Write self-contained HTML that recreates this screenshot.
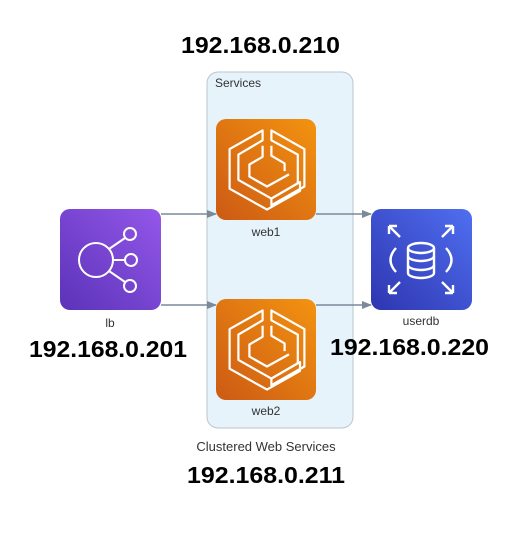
<!DOCTYPE html>
<html><head><meta charset="utf-8"><style>
html,body{margin:0;padding:0;background:#fff;}
svg{display:block;}
.ip{font-family:"Liberation Sans",sans-serif;font-weight:bold;font-size:23px;fill:#000;}
.lbl{font-family:"Liberation Sans",sans-serif;font-size:12px;fill:#333;}
</style></head><body>
<svg width="506" height="540" viewBox="0 0 506 540" xmlns="http://www.w3.org/2000/svg">
<defs>
<linearGradient id="org" x1="0" y1="1" x2="1" y2="0"><stop offset="0" stop-color="#cc5a14"/><stop offset="1" stop-color="#f39310"/></linearGradient>
<linearGradient id="pur" x1="0" y1="1" x2="1" y2="0"><stop offset="0" stop-color="#5b33b8"/><stop offset="1" stop-color="#9457ea"/></linearGradient>
<linearGradient id="blu" x1="0" y1="1" x2="1" y2="0"><stop offset="0" stop-color="#2e35b0"/><stop offset="1" stop-color="#4f6ff0"/></linearGradient>
<marker id="ar" markerWidth="10" markerHeight="8" refX="9" refY="4" orient="auto" markerUnits="userSpaceOnUse"><path d="M0,0 L10,4 L0,8 z" fill="#7a8a99"/></marker>
<g id="ecs">
<path d="M-4,-36 L-34,-19 L-34,17 L0,36 L30,19 L30,11 L4,26 L-26,9 L-26,-14 L-4,-27 z" fill="none" stroke="#fff" stroke-width="2" stroke-linejoin="round"/>
<path d="M4,-36 L34,-19 L34,15 L4,32 L4,26 L28,12 L28,-14 L4,-27 z" fill="none" stroke="#fff" stroke-width="2" stroke-linejoin="round"/>
<path d="M-4,-22 L-4,-12 L-16,-5 L-16,6 L0,15 L20,4" fill="none" stroke="#fff" stroke-width="2" stroke-linejoin="round"/>
<path d="M4,-22 L4,-13 L16,-6 L16,1" fill="none" stroke="#fff" stroke-width="2" stroke-linejoin="round"/>
</g>
</defs>
<rect x="207" y="72" width="146" height="356" rx="11" fill="#e6f3fb" stroke="#b9c7d2" stroke-width="1"/>
<text x="215" y="87" class="lbl">Services</text>
<line x1="161" y1="214" x2="216" y2="214" stroke="#7a8a99" stroke-width="1.5" marker-end="url(#ar)"/>
<line x1="161" y1="305" x2="216" y2="305" stroke="#7a8a99" stroke-width="1.5" marker-end="url(#ar)"/>
<line x1="316" y1="214" x2="371" y2="214" stroke="#7a8a99" stroke-width="1.5" marker-end="url(#ar)"/>
<line x1="316" y1="305" x2="371" y2="305" stroke="#7a8a99" stroke-width="1.5" marker-end="url(#ar)"/>
<rect x="216" y="119" width="100" height="101" rx="10" fill="url(#org)"/>
<use href="#ecs" transform="translate(267,170) scale(1.1)"/>
<text x="266" y="236" class="lbl" text-anchor="middle">web1</text>
<rect x="216" y="299" width="100" height="101" rx="10" fill="url(#org)"/>
<use href="#ecs" transform="translate(267,350) scale(1.1)"/>
<text x="266" y="415" class="lbl" text-anchor="middle">web2</text>
<rect x="60" y="209" width="101" height="101" rx="10" fill="url(#pur)"/>
<g fill="none" stroke="#fff" stroke-width="2">
<circle cx="96" cy="260" r="17"/>
<circle cx="130" cy="234" r="6"/><circle cx="131" cy="260" r="6"/><circle cx="130" cy="286" r="6"/>
<line x1="113" y1="260" x2="125" y2="260"/><line x1="109" y1="249" x2="125" y2="238"/><line x1="109" y1="271" x2="125" y2="282"/>
</g>
<text x="110" y="327" class="lbl" text-anchor="middle">lb</text>
<rect x="371" y="209" width="101" height="101" rx="10" fill="url(#blu)"/>
<g fill="none" stroke="#fff" stroke-width="2.4">
<ellipse cx="421" cy="248" rx="13" ry="5"/>
<path d="M408,248 V273 A13,5 0 0 0 434,273 V248"/>
<path d="M408,256 A13,5 0 0 0 434,256 M408,265 A13,5 0 0 0 434,265"/>
<path d="M396,248 Q385,260 396,272 M446,248 Q457,260 446,272"/>
<path d="M389,226 L400,237 M389,226 H397 M389,226 V234"/>
<path d="M453,226 L442,237 M453,226 H445 M453,226 V234"/>
<path d="M389,293 L400,282 M389,293 H397 M389,293 V285"/>
<path d="M453,293 L442,282 M453,293 H445 M453,293 V285"/>
</g>
<text x="421" y="325" class="lbl" text-anchor="middle">userdb</text>
<text x="266" y="451" class="lbl" text-anchor="middle" style="font-size:13px">Clustered Web Services</text>
<text x="181" y="53" class="ip" textLength="159" lengthAdjust="spacingAndGlyphs">192.168.0.210</text>
<text x="29" y="357" class="ip" textLength="158" lengthAdjust="spacingAndGlyphs">192.168.0.201</text>
<text x="330" y="355" class="ip" textLength="159" lengthAdjust="spacingAndGlyphs">192.168.0.220</text>
<text x="187" y="483" class="ip" textLength="158" lengthAdjust="spacingAndGlyphs">192.168.0.211</text>
</svg>
</body></html>
